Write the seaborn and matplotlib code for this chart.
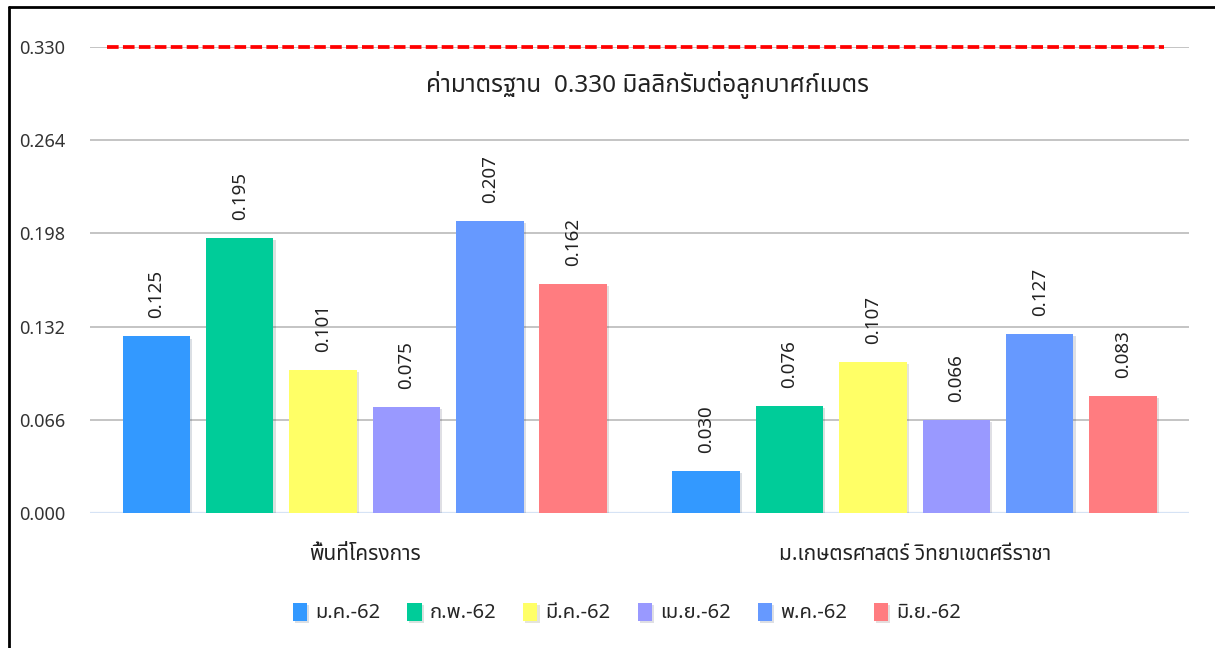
import pandas as pd
import matplotlib
matplotlib.use("Agg")
import matplotlib.pyplot as plt
import matplotlib.patheffects as pe
from matplotlib import font_manager
from matplotlib.ft2font import FT2Font
from matplotlib.lines import Line2D
import seaborn as sns

# data
sites = ["พื้นที่โครงการ", "ม.เกษตรศาสตร์ วิทยาเขตศรีราชา"]
months = ["ม.ค.-62", "ก.พ.-62", "มี.ค.-62", "เม.ย.-62", "พ.ค.-62", "มิ.ย.-62"]
site1_values = [0.125, 0.195, 0.101, 0.075, 0.207, 0.162]
site2_values = [0.030, 0.076, 0.107, 0.066, 0.127, 0.083]
colors = ["#3399FF", "#00CC99", "#FFFF66", "#9999FF", "#6699FF", "#FF7C80"]
y_ticks = [0.000, 0.066, 0.132, 0.198, 0.264, 0.330]
standard = 0.330
standard_label = "ค่ามาตรฐาน  0.330 มิลลิกรัมต่อลูกบาศก์เมตร"


def find_thai_font():
    prefer = ["Tahoma", "Leelawadee UI", "Noto Sans Thai", "Noto Sans Thai UI",
              "Loma", "Garuda", "Sarabun", "Waree", "Umpush", "Norasi", "Kinnari"]
    found = []
    for f in font_manager.fontManager.ttflist:
        try:
            if ord("ก") in FT2Font(f.fname).get_charmap():
                found.append(f.name)
        except Exception:
            pass
    for name in prefer:
        if name in found:
            return name
    return found[0] if found else "DejaVu Sans"


df = pd.DataFrame({
    "site": [sites[0]] * len(months) + [sites[1]] * len(months),
    "month": months * 2,
    "value": site1_values + site2_values,
})

sns.set_style("white")
plt.rcParams["font.family"] = [find_thai_font(), "DejaVu Sans"]

fig = plt.figure(figsize=(12.15, 6.48), dpi=100)
ax = fig.add_axes([0.074, 0.2083, 0.905, 0.7192])

sns.barplot(
    data=df, x="site", y="value", hue="month",
    palette=colors, saturation=1, width=0.91, gap=0.19,
    errorbar=None, ax=ax, zorder=3, linewidth=0,
)

for bar in ax.patches:
    bar.set_path_effects([
        pe.SimplePatchShadow(offset=(1.5, -1.5), alpha=0.15),
        pe.Normal(),
    ])

for cont in ax.containers:
    ax.bar_label(cont, fmt="%.3f", rotation=90, padding=13,
                 fontsize=13.5, color="#222222")

ax.set_ylim(0, 0.33)
ax.set_xlim(-0.5, 1.5)
ax.set_yticks(y_ticks)
ax.set_yticklabels([f"{t:.3f}" for t in y_ticks])
ax.yaxis.grid(True, color="#BFBFBF", linewidth=1.3, zorder=0)
ax.set_axisbelow(True)
ax.axhline(0, color="#D6E3F5", linewidth=1.6, zorder=2)
ax.axhline(standard, xmin=0.0155, xmax=0.977, color="#FF0000",
           linewidth=2.7, dashes=(3.1, 1.15), zorder=4, clip_on=False)
ax.text(0.507, 0.303, standard_label, transform=ax.get_yaxis_transform(),
        ha="center", va="center", fontsize=17.5, color="#222222")

ax.tick_params(axis="y", length=0, pad=18, labelsize=13, labelcolor="#333333")
ax.tick_params(axis="x", length=0, pad=22, labelsize=15, labelcolor="#222222")
ax.set_xlabel("")
ax.set_ylabel("")
sns.despine(ax=ax, left=True, bottom=True)

ax.legend(
    loc="center", bbox_to_anchor=(0.516, 0.054), bbox_transform=fig.transFigure,
    ncol=6, frameon=False, fontsize=14.5, handlelength=0.7, handleheight=1.0,
    handletextpad=0.4, columnspacing=1.35,
)

# black frame on top and left edges
fig.add_artist(Line2D([0.0075, 1.0], [0.989, 0.989], color="black", linewidth=2))
fig.add_artist(Line2D([0.0075, 0.0075], [0.0, 0.989], color="black", linewidth=2))

fig.savefig("out.png", dpi=100, facecolor="white")
plt.close(fig)
